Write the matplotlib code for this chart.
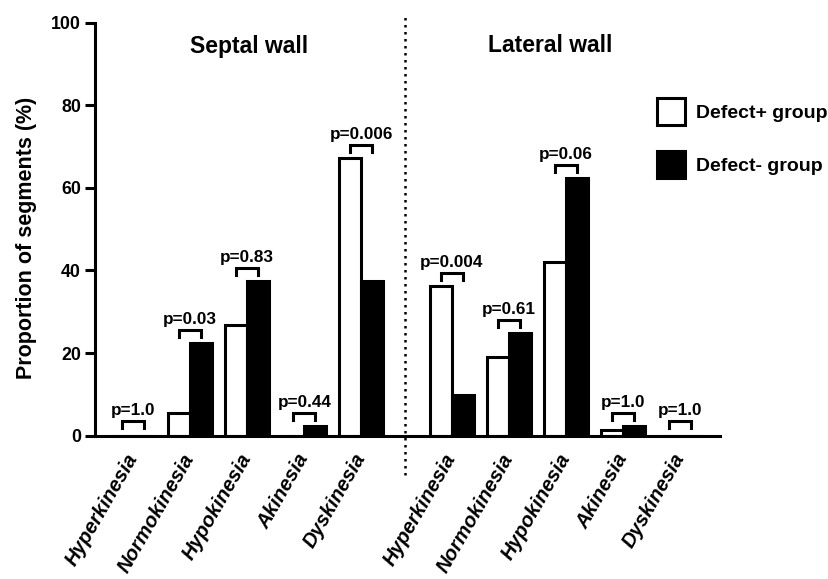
import matplotlib.pyplot as plt
import numpy as np

plt.rcParams['font.family'] = ['Liberation Sans', 'DejaVu Sans']
plt.rcParams['font.weight'] = 'bold'

motion = ['Hyperkinesia', 'Normokinesia', 'Hypokinesia', 'Akinesia', 'Dyskinesia']

# % of segments per wall motion class
septal_plus = [0, 5.6, 26.8, 0, 67.2]
septal_minus = [0, 22.4, 37.5, 2.3, 37.5]
septal_p = ['1.0', '0.03', '0.83', '0.44', '0.006']

lateral_plus = [36.2, 19.1, 42.0, 1.5, 0]
lateral_minus = [9.8, 24.9, 62.3, 2.3, 0]
lateral_p = ['0.004', '0.61', '0.06', '1.0', '1.0']

fig = plt.figure(figsize=(8.29, 5.79), dpi=100)
ax = fig.add_axes([95 / 829, 1 - 435.7 / 579, 625 / 829, 413 / 579])

w = 0.385
lw = 2.2
x_sep = np.arange(5)
x_lat = np.arange(5) + 5.58
xs = np.concatenate([x_sep, x_lat])
plus = septal_plus + lateral_plus
minus = septal_minus + lateral_minus
pvals = septal_p + lateral_p

b1 = ax.bar(xs - w / 2, plus, w, color='white', edgecolor='black', linewidth=lw,
            label='Defect+ group')
b2 = ax.bar(xs + w / 2, minus, w, color='black', edgecolor='black', linewidth=lw,
            label='Defect- group')

# significance brackets
for x, a, b, p in zip(xs, plus, minus, pvals):
    y = max(max(a, b) + 3.2, 3.6)
    ax.plot([x - w / 2, x - w / 2, x + w / 2, x + w / 2], [y - 1.7, y, y, y - 1.7],
            color='black', lw=2.2, solid_joinstyle='miter', clip_on=False)
    ax.text(x, y + 0.7, 'p=' + p, ha='center', va='bottom', fontsize=12.3,
            fontweight='bold')

# divider between the two walls
ax.plot([4.77, 4.77], [-9.5, 101.6], color='black', lw=1.8, ls=(0, (1, 1.8)),
        clip_on=False)

ax.text(2.03, 94.2, 'Septal wall', ha='center', va='center', fontsize=16.5,
        fontweight='bold')
ax.text(7.3, 94.6, 'Lateral wall', ha='center', va='center', fontsize=16.5,
        fontweight='bold')

ax.set_xlim(-0.665, 10.28)
ax.set_ylim(0, 100)
ax.set_yticks(np.arange(0, 101, 20))
ax.set_xticks(xs)
ax.set_xticklabels(motion + motion, rotation=60, ha='right', va='center',
                   rotation_mode='anchor', fontstyle='italic', fontsize=14.6,
                   fontweight='bold')
ax.tick_params(axis='x', length=0, pad=14)
ax.tick_params(axis='y', length=7, width=2.2, labelsize=12.8, pad=3)
for t in ax.get_yticklabels():
    t.set_fontweight('bold')

for s in ['top', 'right']:
    ax.spines[s].set_visible(False)
for s in ['left', 'bottom']:
    ax.spines[s].set_linewidth(2.2)

ax.set_ylabel('Proportion of segments (%)', fontsize=15.5, fontweight='bold')
ax.yaxis.set_label_coords(-0.093, 0.48)

fig.legend(handles=[b1, b2], loc='upper left', bbox_to_anchor=(657 / 829, 1 - 98 / 579),
           frameon=False, handlelength=1.43, handleheight=1.75,
           labelspacing=1.35, handletextpad=0.55, borderpad=0, borderaxespad=0,
           prop={'weight': 'bold', 'size': 14})

fig.savefig('out.png', dpi=100)
